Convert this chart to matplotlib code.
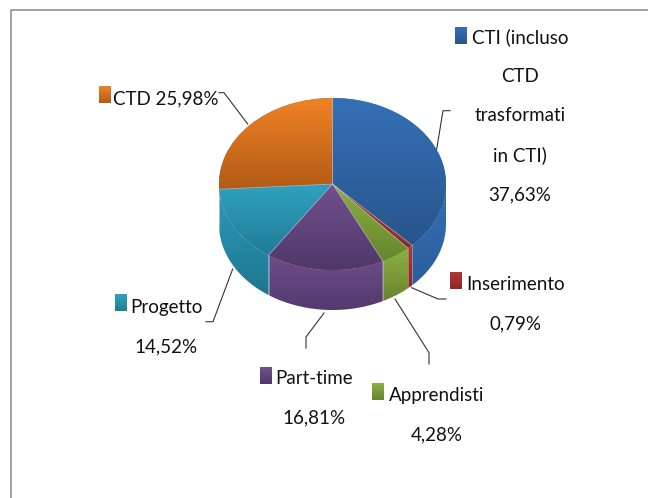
import numpy as np
import matplotlib
matplotlib.use("Agg")
import matplotlib.pyplot as plt
from matplotlib.colors import LinearSegmentedColormap
from matplotlib.patches import Polygon, Rectangle

W, H = 648, 498

labels = ["CTI (incluso\nCTD\ntrasformati\nin CTI)\n37,63%", "Inserimento\n0,79%", "Apprendisti\n4,28%",
          "Part-time\n16,81%", "Progetto\n14,52%", "CTD 25,98%"]
values = [37.63, 0.79, 4.28, 16.81, 14.52, 25.98]
top_colors = [("#3570b6", "#28558c"), ("#b83531", "#8c2826"), ("#8db043", "#67852f"),
              ("#72508f", "#4f3869"), ("#2fa2c0", "#217c96"), ("#f08225", "#b25c16")]
wall_colors = [("#3570b6", "#2b5e9c"), ("#b83531", "#8c2826"), ("#8db043", "#67852f"),
               ("#6d4d8b", "#533a6e"), ("#2b9bb9", "#1f7690"), ("#f08225", "#b25c16")]

# pixel geometry of the pie
CX, CY, RX, RY, DEPTH = 332.5, 184, 113.5, 86, 40

# label centre x and last baseline y, legend key (x, y), leader line pts
label_pos = [(520, 200), (516, 329), (437, 440), (314.5, 423), (166.5, 352), (165.5, 104)]
key_pos = [(455, 27), (450, 272), (372, 383), (260, 367), (115, 294), (99, 86)]
leaders = [[(450, 110.7), (443, 110.7), (436.7, 149)],
           [(411.7, 287.7), (438, 299), (446, 299)],
           [(395, 299), (429, 352.7), (429, 364)],
           [(324, 313), (306, 337), (306, 348)],
           [(232.7, 269), (213, 321.7), (206, 321.7)],
           [(219, 92.7), (224, 92.7), (247.7, 124)]]

plt.rcParams['font.family'] = ['Lato', 'DejaVu Sans']


def gradient(ax, extent, colors, clip):
    cmap = LinearSegmentedColormap.from_list("g", colors)
    im = ax.imshow(np.linspace(0, 1, 64).reshape(-1, 1), cmap=cmap, extent=extent, origin="upper",
                   aspect="auto", zorder=clip.get_zorder(), interpolation="bilinear")
    im.set_clip_path(clip)


fig = plt.figure(figsize=(W / 100, H / 100), dpi=100)

# frame, only top and left are visible
bg = fig.add_axes([0, 0, 1, 1])
bg.set_xlim(0, W)
bg.set_ylim(H, 0)
bg.axis("off")
bg.plot([10.5, 10.5, W], [H, 9.5, 9.5], color="#868686", lw=1.1, solid_capstyle="butt")

# pie axes: the unit circle stretched into the tilted ellipse, with room for the wall
ax = fig.add_axes([(CX - RX) / W, 1 - (CY + RY + DEPTH) / H, 2 * RX / W, (2 * RY + DEPTH) / H])
wedges, _ = ax.pie(values, startangle=90, counterclock=False, radius=1, frame=False,
                   wedgeprops=dict(edgecolor="none"))
ax.set_aspect("auto")
d = DEPTH / RY
ax.axis("off")

# side wall, only the front half of the rim shows
ends = 90 - np.cumsum(values) * 3.6
starts = np.r_[90, ends[:-1]]
for start, end, cols in zip(starts, ends, wall_colors):
    a0, a1 = max(end, -180), min(start, 0)
    if a1 <= a0:
        continue
    t = np.radians(np.linspace(a0, a1, 60))
    xs, ys = np.cos(t), np.sin(t)
    pts = np.r_[np.c_[xs, ys], np.c_[xs, ys - d][::-1]]
    poly = Polygon(pts, closed=True, transform=ax.transData, facecolor="none", edgecolor="none", zorder=1)
    ax.add_patch(poly)
    gradient(ax, (xs.min(), xs.max(), ys.min() - d, ys.max()), cols, poly)
    ax.plot([xs[0], xs[0]], [ys[0], ys[0] - d], color="#c8d0dc", lw=0.5, alpha=0.6, zorder=1.5)

# top face with vertical gradient on each wedge
for w, start, end, cols in zip(wedges, starts, ends, top_colors):
    t = np.radians(np.linspace(end, start, 200))
    xs = np.r_[0, np.cos(t)]
    ys = np.r_[0, np.sin(t)]
    w.set_zorder(2)
    gradient(ax, (xs.min(), xs.max(), ys.min(), ys.max()), cols, w)
    ax.plot(xs[[0, 1]], ys[[0, 1]], color="#c8d0dc", lw=0.5, alpha=0.7, zorder=3)
ax.set_xlim(-1, 1)
ax.set_ylim(-1 - d, 1)

# legend keys, leaders and labels on top
fg = fig.add_axes([0, 0, 1, 1], facecolor="none")
fg.axis("off")
for lab, lp, kp, line, cols in zip(labels, label_pos, key_pos, leaders, top_colors):
    r = Rectangle(kp, 12, 17, facecolor="none", edgecolor="none")
    fg.add_patch(r)
    gradient(fg, (kp[0], kp[0] + 12, kp[1] + 17, kp[1]), cols, r)
    fg.plot(*zip(*line), color="#333333", lw=0.8)
    fg.text(lp[0], lp[1], lab, ha="center", va="baseline", fontsize=13.5, color="#111111",
            linespacing=2.54, multialignment="center")
fg.set_xlim(0, W)
fg.set_ylim(H, 0)

fig.savefig("out.png", dpi=100)
